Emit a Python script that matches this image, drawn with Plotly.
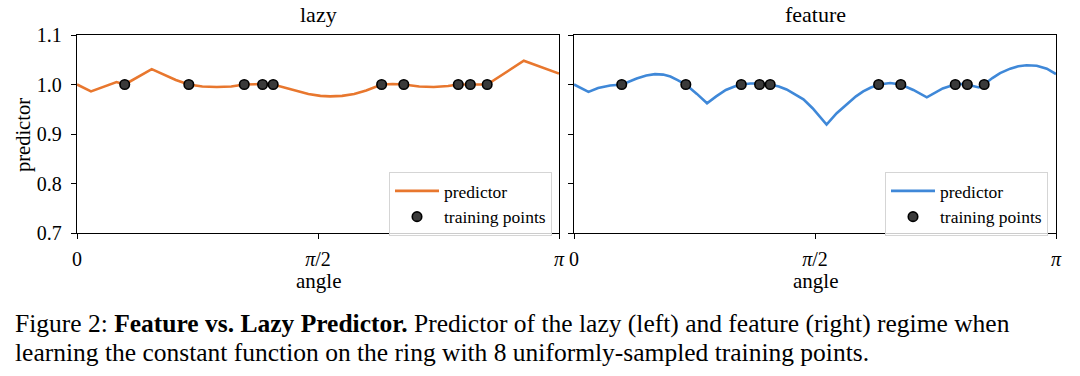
import numpy as np
import plotly.graph_objects as go

# ---------------- data (angles as fractions of pi) ----------------
train_frac = [0.099, 0.232, 0.347, 0.385, 0.407, 0.632, 0.678, 0.791, 0.816, 0.851]
train_val = [1.0] * len(train_frac)

lazy_frac = [0.000, 0.029, 0.082, 0.099, 0.155, 0.180, 0.205, 0.232, 0.260, 0.290,
             0.320, 0.347, 0.366, 0.385, 0.407, 0.430, 0.455, 0.480, 0.505, 0.525,
             0.550, 0.575, 0.600, 0.632, 0.655, 0.678, 0.710, 0.740, 0.770, 0.791,
             0.816, 0.851, 0.927, 1.000]
lazy_pred = [1.000, 0.986, 1.005, 1.000, 1.031, 1.020, 1.009, 1.000, 0.996, 0.995,
             0.996, 1.000, 1.001, 1.001, 1.000, 0.994, 0.987, 0.981, 0.977, 0.976,
             0.977, 0.981, 0.988, 1.000, 1.001, 1.000, 0.996, 0.995, 0.997, 1.000,
             1.000, 1.000, 1.048, 1.022]

feat_frac = [0.000, 0.030, 0.050, 0.075, 0.100, 0.130, 0.150, 0.168, 0.185, 0.200,
             0.215, 0.232, 0.255, 0.276, 0.295, 0.315, 0.333, 0.348, 0.366, 0.386,
             0.407, 0.425, 0.441, 0.460, 0.476, 0.495, 0.510, 0.524, 0.545, 0.566,
             0.585, 0.600, 0.616, 0.633, 0.656, 0.678, 0.704, 0.732, 0.748, 0.765,
             0.790, 0.803, 0.815, 0.830, 0.840, 0.851, 0.868, 0.884, 0.905, 0.922,
             0.939, 0.960, 0.981, 1.000]
feat_pred = [1.000, 0.985, 0.993, 0.998, 1.000, 1.012, 1.018, 1.021, 1.020, 1.016,
             1.009, 1.000, 0.981, 0.962, 0.976, 0.989, 0.996, 1.000, 1.002, 1.002,
             1.000, 0.996, 0.990, 0.980, 0.970, 0.952, 0.936, 0.919, 0.942, 0.960,
             0.976, 0.986, 0.994, 1.000, 1.003, 1.000, 0.989, 0.974, 0.983, 0.992,
             1.000, 1.001, 1.000, 0.996, 0.994, 1.000, 1.013, 1.023, 1.032, 1.037,
             1.039, 1.038, 1.032, 1.021]

y_ticks = [0.7, 0.8, 0.9, 1.0, 1.1]
y_ticklabels = ["0.7", "0.8", "0.9", "1.0", "1.1"]
x_ticks = [0.0, np.pi / 2, np.pi]
x_ticklabels = ["0", "<i>π</i>/2", "<i>π</i>"]

ORANGE = "#e8772e"
BLUE = "#3f88d8"
FONT = "Liberation Serif"
W, H = 1080, 376

def px(x):
    return x / W

def py(y):
    return 1 - y / H

fig = go.Figure()

marker_style = dict(color="#3a3a3a", size=9.5, line=dict(color="black", width=1.6))
fig.add_trace(go.Scatter(x=np.pi * np.array(lazy_frac), y=lazy_pred, mode="lines",
                         line=dict(color=ORANGE, width=2.6), name="predictor",
                         xaxis="x", yaxis="y", legend="legend"))
fig.add_trace(go.Scatter(x=np.pi * np.array(train_frac), y=train_val, mode="markers",
                         marker=marker_style, name="training points",
                         xaxis="x", yaxis="y", legend="legend"))
fig.add_trace(go.Scatter(x=np.pi * np.array(feat_frac), y=feat_pred, mode="lines",
                         line=dict(color=BLUE, width=2.6), name="predictor",
                         xaxis="x2", yaxis="y2", legend="legend2"))
fig.add_trace(go.Scatter(x=np.pi * np.array(train_frac), y=train_val, mode="markers",
                         marker=marker_style, name="training points",
                         xaxis="x2", yaxis="y2", legend="legend2"))

axis_common = dict(showline=True, mirror=True, linecolor="black", linewidth=1.3,
                   ticks="outside", ticklen=5, tickwidth=1.3, tickcolor="black",
                   showgrid=False, zeroline=False, automargin=False,
                   tickfont=dict(family=FONT, size=20, color="black"))

legend_common = dict(yanchor="top", xanchor="right", y=py(172),
                     bgcolor="rgba(255,255,255,0.8)", bordercolor="#d5d5d5", borderwidth=1,
                     font=dict(family=FONT, size=17.5), itemwidth=44, tracegroupgap=0)

ydom = [py(233), py(35)]
fig.update_layout(
    width=W, height=H,
    margin=dict(l=0, r=0, t=0, b=0, pad=0, autoexpand=False),
    paper_bgcolor="white", plot_bgcolor="white",
    font=dict(family=FONT, size=18, color="black"),
    xaxis=dict(domain=[px(77), px(559)], range=[0, np.pi], tickvals=x_ticks,
               ticktext=x_ticklabels, anchor="y", ticklabelstandoff=3, **axis_common),
    yaxis=dict(domain=ydom, range=[0.7, 1.1], tickvals=y_ticks, ticktext=y_ticklabels,
               anchor="x", ticklabelstandoff=5, **axis_common),
    xaxis2=dict(domain=[px(574), px(1056)], range=[0, np.pi], tickvals=x_ticks,
                ticktext=x_ticklabels, anchor="y2", ticklabelstandoff=3, **axis_common),
    yaxis2=dict(domain=ydom, range=[0.7, 1.1], tickvals=y_ticks, showticklabels=False,
                anchor="x2", matches="y", **axis_common),
    legend=dict(x=px(552), **legend_common),
    legend2=dict(x=px(1048), **legend_common),
    showlegend=True,
)

annots = [
    dict(text="lazy", x=px(318), y=py(15), font=dict(size=22)),
    dict(text="feature", x=px(815), y=py(15), font=dict(size=22)),
    dict(text="angle", x=px(318), y=py(281), font=dict(size=21)),
    dict(text="angle", x=px(815), y=py(281), font=dict(size=21)),
    dict(text="predictor", x=px(23), y=py(135), textangle=-90, font=dict(size=20.5)),
]
for a in annots:
    fig.add_annotation(xref="paper", yref="paper", showarrow=False,
                       xanchor="center", yanchor="middle", **a)

cap1 = ("Figure 2: <b>Feature vs. Lazy Predictor.</b> Predictor of the lazy (left) and "
        "feature (right) regime when")
cap2 = "learning the constant function on the ring with 8 uniformly-sampled training points."
for txt, yy in [(cap1, 323), (cap2, 352)]:
    fig.add_annotation(text=txt, xref="paper", yref="paper", x=px(13), y=py(yy),
                       xanchor="left", yanchor="middle", showarrow=False,
                       font=dict(family=FONT, size=25.5, color="black"))

fig.write_html("out.html", config={"displayModeBar": False},
               post_script="document.body.style.margin='0';document.body.style.padding='0';")
